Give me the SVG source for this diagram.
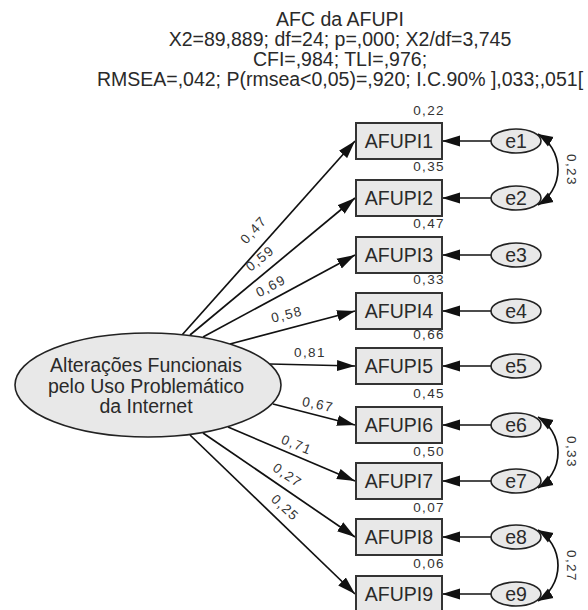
<svg xmlns="http://www.w3.org/2000/svg" width="588" height="610" viewBox="0 0 588 610">
<style>
text{font-family:"Liberation Sans",Arial,sans-serif;fill:#2a2a2a}
.t{font-size:19.5px;text-anchor:middle}
.n{font-size:19.5px;text-anchor:middle}
.s{font-size:13.5px;letter-spacing:1.4px;fill:#333}
.sm{text-anchor:middle}
.se{text-anchor:end}
.box{fill:#e8e8e8;stroke:#333;stroke-width:2}
.ell{fill:#e8e8e8;stroke:#222;stroke-width:1.6}
.ln{stroke:#111;stroke-width:1.7;fill:none}
</style>
<defs>
<marker id="ah" markerUnits="userSpaceOnUse" markerWidth="19" markerHeight="12" refX="18" refY="6" orient="auto"><path d="M0,0.5 L18,6 L0,11.5 z" fill="#111"/></marker>
<marker id="ac" markerUnits="userSpaceOnUse" markerWidth="16" markerHeight="12" refX="15" refY="6" orient="auto-start-reverse"><path d="M0,0.5 L15,6 L0,11.5 z" fill="#111"/></marker>
</defs>
<g id="title">
<text class="t" x="340" y="26">AFC da AFUPI</text>
<text class="t" x="340" y="46">X2=89,889; df=24; p=,000; X2/df=3,745</text>
<text class="t" x="340" y="66">CFI=,984; TLI=,976;</text>
<text class="t" x="340" y="86">RMSEA=,042; P(rmsea&lt;0,05)=,920; I.C.90% ],033;,051[</text>
</g>
<g id="connectors">
<line class="ln" x1="182" y1="335" x2="355" y2="141" marker-end="url(#ah)"/>
<line class="ln" x1="190" y1="335" x2="355" y2="198" marker-end="url(#ah)"/>
<line class="ln" x1="203" y1="337" x2="355" y2="255" marker-end="url(#ah)"/>
<line class="ln" x1="230" y1="344" x2="355" y2="311" marker-end="url(#ah)"/>
<line class="ln" x1="270" y1="364" x2="355" y2="366" marker-end="url(#ah)"/>
<line class="ln" x1="273" y1="404" x2="355" y2="425" marker-end="url(#ah)"/>
<line class="ln" x1="228" y1="427" x2="355" y2="481" marker-end="url(#ah)"/>
<line class="ln" x1="203" y1="433" x2="355" y2="537" marker-end="url(#ah)"/>
<line class="ln" x1="190" y1="435" x2="355" y2="594" marker-end="url(#ah)"/>
<line class="ln" x1="491" y1="141" x2="442" y2="141" marker-end="url(#ah)"/>
<line class="ln" x1="491" y1="198" x2="442" y2="198" marker-end="url(#ah)"/>
<line class="ln" x1="491" y1="255" x2="442" y2="255" marker-end="url(#ah)"/>
<line class="ln" x1="491" y1="311" x2="442" y2="311" marker-end="url(#ah)"/>
<line class="ln" x1="491" y1="366" x2="442" y2="366" marker-end="url(#ah)"/>
<line class="ln" x1="491" y1="425" x2="442" y2="425" marker-end="url(#ah)"/>
<line class="ln" x1="491" y1="481" x2="442" y2="481" marker-end="url(#ah)"/>
<line class="ln" x1="491" y1="537" x2="442" y2="537" marker-end="url(#ah)"/>
<line class="ln" x1="491" y1="594" x2="442" y2="594" marker-end="url(#ah)"/>
<path class="ln" d="M538,134 A41.5,41.5 0 0 1 538,205" marker-start="url(#ac)" marker-end="url(#ac)"/>
<path class="ln" d="M538,417 A41.5,41.5 0 0 1 538,488" marker-start="url(#ac)" marker-end="url(#ac)"/>
<path class="ln" d="M538,530 A41.5,41.5 0 0 1 538,601" marker-start="url(#ac)" marker-end="url(#ac)"/>
<text class="s sm" transform="translate(257,233) rotate(-48)">0,47</text>
<text class="s sm" transform="translate(263,262) rotate(-39)">0,59</text>
<text class="s sm" transform="translate(273,290) rotate(-28)">0,69</text>
<text class="s sm" transform="translate(288,319) rotate(-14)">0,58</text>
<text class="s sm" transform="translate(310,357)">0,81</text>
<text class="s sm" transform="translate(317,409) rotate(12)">0,67</text>
<text class="s sm" transform="translate(295,449) rotate(22)">0,71</text>
<text class="s sm" transform="translate(285,479) rotate(34)">0,27</text>
<text class="s sm" transform="translate(282,511) rotate(43)">0,25</text>
<text class="s sm" transform="translate(567,170) rotate(90)">0,23</text>
<text class="s sm" transform="translate(567,452) rotate(90)">0,33</text>
<text class="s sm" transform="translate(567,566) rotate(90)">0,27</text>
</g>
<g id="F">
<ellipse class="ell" cx="148" cy="385" rx="133" ry="52"/>
<text class="n" x="146" y="372">Alterações Funcionais</text>
<text class="n" x="146" y="393">pelo Uso Problemático</text>
<text class="n" x="146" y="413">da Internet</text>
</g>
<g id="AFUPI1"><rect class="box" x="356" y="123" width="86" height="36"/><text class="n" x="399" y="148">AFUPI1</text><text class="s se" x="445" y="115">0,22</text></g>
<g id="AFUPI2"><rect class="box" x="356" y="180" width="86" height="36"/><text class="n" x="399" y="205">AFUPI2</text><text class="s se" x="445" y="171">0,35</text></g>
<g id="AFUPI3"><rect class="box" x="356" y="237" width="86" height="36"/><text class="n" x="399" y="262">AFUPI3</text><text class="s se" x="445" y="228">0,47</text></g>
<g id="AFUPI4"><rect class="box" x="356" y="293" width="86" height="36"/><text class="n" x="399" y="318">AFUPI4</text><text class="s se" x="445" y="284">0,33</text></g>
<g id="AFUPI5"><rect class="box" x="356" y="348" width="86" height="36"/><text class="n" x="399" y="373">AFUPI5</text><text class="s se" x="445" y="339">0,66</text></g>
<g id="AFUPI6"><rect class="box" x="356" y="407" width="86" height="36"/><text class="n" x="399" y="432">AFUPI6</text><text class="s se" x="445" y="398">0,45</text></g>
<g id="AFUPI7"><rect class="box" x="356" y="463" width="86" height="36"/><text class="n" x="399" y="488">AFUPI7</text><text class="s se" x="445" y="456">0,50</text></g>
<g id="AFUPI8"><rect class="box" x="356" y="519" width="86" height="36"/><text class="n" x="399" y="544">AFUPI8</text><text class="s se" x="445" y="512">0,07</text></g>
<g id="AFUPI9"><rect class="box" x="356" y="576" width="86" height="36"/><text class="n" x="399" y="601">AFUPI9</text><text class="s se" x="445" y="568">0,06</text></g>
<g id="e1"><ellipse class="ell" cx="516" cy="141" rx="25" ry="12"/><text class="n" x="516" y="148">e1</text></g>
<g id="e2"><ellipse class="ell" cx="516" cy="198" rx="25" ry="12"/><text class="n" x="516" y="205">e2</text></g>
<g id="e3"><ellipse class="ell" cx="516" cy="255" rx="25" ry="12"/><text class="n" x="516" y="262">e3</text></g>
<g id="e4"><ellipse class="ell" cx="516" cy="311" rx="25" ry="12"/><text class="n" x="516" y="318">e4</text></g>
<g id="e5"><ellipse class="ell" cx="516" cy="366" rx="25" ry="12"/><text class="n" x="516" y="373">e5</text></g>
<g id="e6"><ellipse class="ell" cx="516" cy="425" rx="25" ry="12"/><text class="n" x="516" y="432">e6</text></g>
<g id="e7"><ellipse class="ell" cx="516" cy="481" rx="25" ry="12"/><text class="n" x="516" y="488">e7</text></g>
<g id="e8"><ellipse class="ell" cx="516" cy="537" rx="25" ry="12"/><text class="n" x="516" y="544">e8</text></g>
<g id="e9"><ellipse class="ell" cx="516" cy="594" rx="25" ry="12"/><text class="n" x="516" y="601">e9</text></g>
</svg>
